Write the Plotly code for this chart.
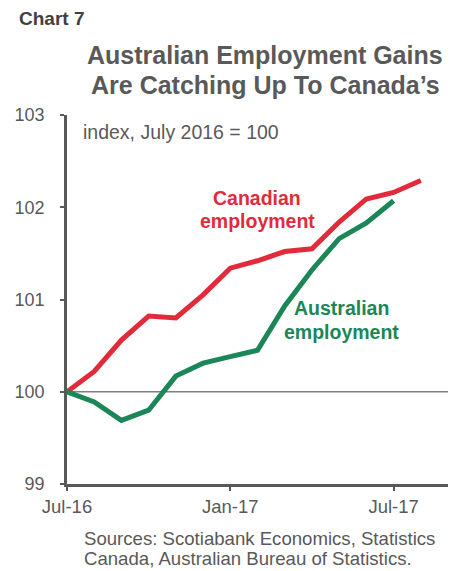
import plotly.graph_objects as go

months = ["Jul-16","Aug-16","Sep-16","Oct-16","Nov-16","Dec-16","Jan-17",
          "Feb-17","Mar-17","Apr-17","May-17","Jun-17","Jul-17","Aug-17"]
canada = [100.0, 100.22, 100.56, 100.82, 100.80, 101.05, 101.34, 101.42,
          101.52, 101.55, 101.84, 102.09, 102.16, 102.29]
australia = [100.0, 99.89, 99.69, 99.80, 100.17, 100.31, 100.38, 100.45,
             100.93, 101.32, 101.66, 101.83, 102.07]
tick_pos = [0, 6, 12]
tick_text = ["Jul-16", "Jan-17", "Jul-17"]
y_ticks = [99, 100, 101, 102, 103]

RED = "#E22B3A"
GREEN = "#1B8658"
GRAY = "#595959"
FONT = "Liberation Sans, Arial, sans-serif"

W, H = 461, 571
ML, MR, MT, MB = 67, 13, 115, 87

fig = go.Figure()
fig.add_trace(go.Scatter(x=list(range(len(canada))), y=canada, mode="lines",
                         line=dict(color=RED, width=5), showlegend=False))
fig.add_trace(go.Scatter(x=list(range(len(australia))), y=australia, mode="lines",
                         line=dict(color=GREEN, width=5), showlegend=False))

fig.add_shape(type="line", xref="paper", x0=0, x1=1, yref="y", y0=100, y1=100,
              line=dict(color="#7f7f7f", width=1.5), layer="below")

fig.update_layout(
    width=W, height=H,
    margin=dict(l=ML, r=MR, t=MT, b=MB),
    plot_bgcolor="white", paper_bgcolor="white",
    font=dict(family=FONT, color=GRAY),
    xaxis=dict(range=[0, 14], tickvals=tick_pos, ticktext=tick_text,
               showgrid=False, zeroline=False, showline=True, linecolor=GRAY,
               linewidth=3, ticks="outside", ticklen=4, tickcolor=GRAY, tickwidth=1.5,
               tickfont=dict(size=18.5, color=GRAY, family=FONT)),
    yaxis=dict(range=[99, 103], tickvals=y_ticks, showgrid=False, zeroline=False,
               showline=True, linecolor=GRAY, linewidth=2.5, ticks="outside",
               ticklen=4, tickcolor=GRAY, tickwidth=1.5,
               tickfont=dict(size=18, color=GRAY, family=FONT), ticklabelstandoff=12),
)

def px_anno(text, x, y, size, color, xanchor="left", family=FONT, align="center"):
    fig.add_annotation(
        xref="paper", yref="paper", showarrow=False,
        x=(x - ML) / (W - ML - MR), y=1 - (y - MT) / (H - MT - MB),
        xanchor=xanchor, yanchor="middle", align=align,
        text=text, font=dict(size=size, color=color, family=family))

px_anno("<b>Chart 7</b>", 17, 18, 19, "#404040",
        family="Liberation Sans Narrow, Arial Narrow, Liberation Sans, sans-serif")
px_anno("<b>Australian Employment Gains</b>", 265, 55, 25, GRAY, xanchor="center")
px_anno("<b>Are Catching Up To Canada’s</b>", 265, 85, 25, GRAY, xanchor="center")
px_anno("index, July 2016 = 100", 81, 132, 19.5, GRAY)
px_anno("Sources: Scotiabank Economics, Statistics", 82, 538, 18.6, GRAY)
px_anno("Canada, Australian Bureau of Statistics.", 82, 558, 18.6, GRAY)
px_anno("<b>Canadian</b>", 257, 198, 19.5, RED, xanchor="center")
px_anno("<b>employment</b>", 257, 221, 19.5, RED, xanchor="center")
px_anno("<b>Australian</b>", 341, 308, 19.5, GREEN, xanchor="center")
px_anno("<b>employment</b>", 341, 332, 19.5, GREEN, xanchor="center")

fig.write_html("out.html")
